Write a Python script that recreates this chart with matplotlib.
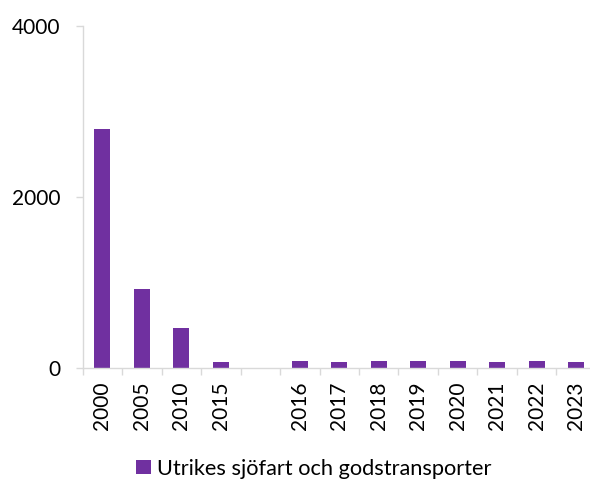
import matplotlib
matplotlib.use("Agg")
import matplotlib.pyplot as plt
import numpy as np
from matplotlib.patches import Patch

plt.rcParams["font.family"] = ["Lato", "DejaVu Sans"]

YEARS = ["2000", "2005", "2010", "2015", "", "2016", "2017", "2018",
         "2019", "2020", "2021", "2022", "2023"]
VALUES = [2795, 928, 464, 66, np.nan, 82, 75, 80, 85, 85, 75, 80, 68]
SERIES_NAME = "Utrikes sjöfart och godstransporter"

PURPLE = "#7030A0"
AXIS_GREY = "#D9D9D9"


def main():
    fig = plt.figure(figsize=(5.9, 4.83), dpi=100)
    ax = fig.add_axes([0.140, 0.238, 0.870, 0.708])

    x = np.arange(len(YEARS))
    ax.bar(x, VALUES, width=0.4, color=PURPLE)

    ax.set_xlim(-0.5, len(YEARS) - 0.5)
    ax.set_ylim(0, 4000)
    ax.set_yticks([0, 2000, 4000])

    # tick marks between categories, labels at category centres
    ax.set_xticks(np.arange(-0.5, len(YEARS), 1.0))
    ax.set_xticklabels([])
    ax.set_xticks(x, minor=True)
    ax.set_xticklabels(YEARS, minor=True, rotation=90, fontsize=15)
    ax.tick_params(axis="x", which="major", length=5, color=AXIS_GREY, width=1)
    ax.tick_params(axis="x", which="minor", length=0, pad=10)
    ax.tick_params(axis="y", length=5, color=AXIS_GREY, width=1, pad=11,
                   labelsize=15)

    for side in ("top", "right"):
        ax.spines[side].set_visible(False)
    for side in ("left", "bottom"):
        ax.spines[side].set_color(AXIS_GREY)
        ax.spines[side].set_linewidth(1)

    handle = Patch(facecolor=PURPLE, edgecolor="none")
    fig.legend([handle], [SERIES_NAME], loc="center",
               bbox_to_anchor=(0.532, 0.03), frameon=False, fontsize=15.7,
               handlelength=0.65, handleheight=0.65, handletextpad=0.3)

    fig.savefig("out.png", dpi=100)


if __name__ == "__main__":
    main()
